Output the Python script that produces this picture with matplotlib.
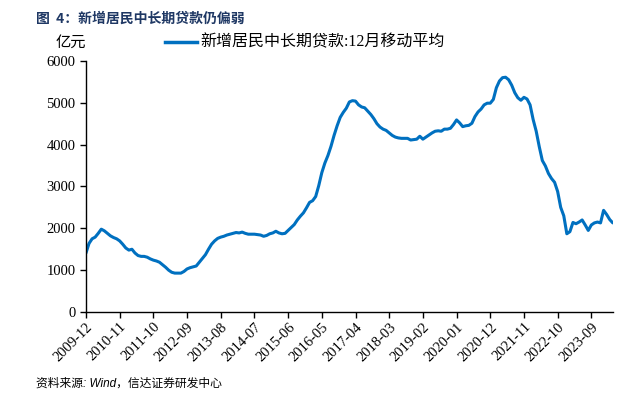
import matplotlib.pyplot as plt
import pandas as pd

plt.rcParams['font.family'] = ['Liberation Serif', 'Noto Sans CJK SC']

# 新增居民中长期贷款, 12月移动平均, 亿元, 2009-12 .. 2024-04
months = pd.period_range('2009-12', periods=173, freq='M').strftime('%Y-%m').tolist()
loan_ma12 = [
    1410, 1640, 1750, 1790, 1880, 1980, 1940, 1880, 1820, 1780,
    1750, 1700, 1620, 1530, 1480, 1500, 1410, 1350, 1330, 1330,
    1310, 1270, 1240, 1220, 1190, 1130, 1070, 1000, 950, 930,
    930, 930, 970, 1030, 1060, 1080, 1100, 1190, 1280, 1370,
    1500, 1620, 1700, 1760, 1790, 1810, 1840, 1860, 1880, 1900,
    1890, 1910, 1880, 1860, 1860, 1860, 1850, 1840, 1810, 1830,
    1870, 1890, 1930, 1890, 1870, 1880, 1950, 2020, 2090, 2200,
    2290, 2370, 2490, 2620, 2660, 2760, 3020, 3330, 3560, 3740,
    3960, 4220, 4450, 4650, 4770, 4870, 5020, 5050, 5040, 4950,
    4900, 4880, 4800, 4720, 4620, 4500, 4420, 4370, 4340, 4280,
    4220, 4180, 4160, 4150, 4150, 4150, 4110, 4120, 4130, 4200,
    4130, 4180, 4230, 4280, 4320, 4330, 4320, 4370, 4370, 4390,
    4480, 4590, 4520, 4430, 4450, 4460, 4510, 4670, 4780, 4850,
    4950, 4990, 4990, 5080, 5360, 5520, 5600, 5610, 5550, 5420,
    5240, 5120, 5060, 5130, 5090, 4950, 4600, 4320, 3950, 3620,
    3490, 3310, 3190, 3100, 2880, 2500, 2300, 1870, 1920, 2140,
    2110, 2150, 2200, 2080, 1950, 2080, 2130, 2150, 2130, 2430,
    2330, 2210, 2130,
]
tick_labels = ['2009-12', '2010-11', '2011-10', '2012-09', '2013-08', '2014-07',
               '2015-06', '2016-05', '2017-04', '2018-03', '2019-02', '2020-01',
               '2020-12', '2021-11', '2022-10', '2023-09']
y_ticks = [0, 1000, 2000, 3000, 4000, 5000, 6000]

fig = plt.figure(figsize=(6.35, 3.93), dpi=100)
ax = fig.add_axes([0.1354, 0.206, 0.8296, 0.639])

x = list(range(len(months)))
ax.plot(x, loan_ma12, color='#0070C0', lw=2.2, solid_capstyle='round')

ax.set_xlim(0, len(months) - 1)
ax.set_ylim(0, 6000)
ax.set_yticks(y_ticks)
ax.set_xticks([months.index(t) for t in tick_labels])
ax.set_xticklabels(tick_labels, rotation=45, ha='right', rotation_mode='anchor')
ax.tick_params(axis='both', labelsize=10.5, length=4, width=1, color='black', direction='out')
ax.tick_params(axis='x', pad=2)
for s in ['top', 'right']:
    ax.spines[s].set_visible(False)
for s in ['left', 'bottom']:
    ax.spines[s].set_linewidth(1)

fig.text(0.057, 0.952, '图  4：新增居民中长期贷款仍偏弱', fontsize=10, fontweight='bold',
         color='#1F3864', family=['Noto Sans CJK SC'], va='center')
fig.text(0.088, 0.893, '亿元', fontsize=11, family=['Noto Sans CJK SC'], va='center')
fig.lines.append(plt.Line2D([0.26, 0.31], [0.893, 0.893], color='#0070C0', lw=2.5,
                            transform=fig.transFigure))
fig.text(0.316, 0.893, '新增居民中长期贷款:12月移动平均', fontsize=11.5,
         family=['Liberation Serif', 'Noto Sans CJK SC'], va='center')
fig.text(0.057, 0.025, '资料来源: Wind，信达证券研发中心', fontsize=8.5, style='italic',
         family=['Liberation Sans', 'Noto Sans CJK SC'], va='center')

fig.savefig('out.png', dpi=100)
